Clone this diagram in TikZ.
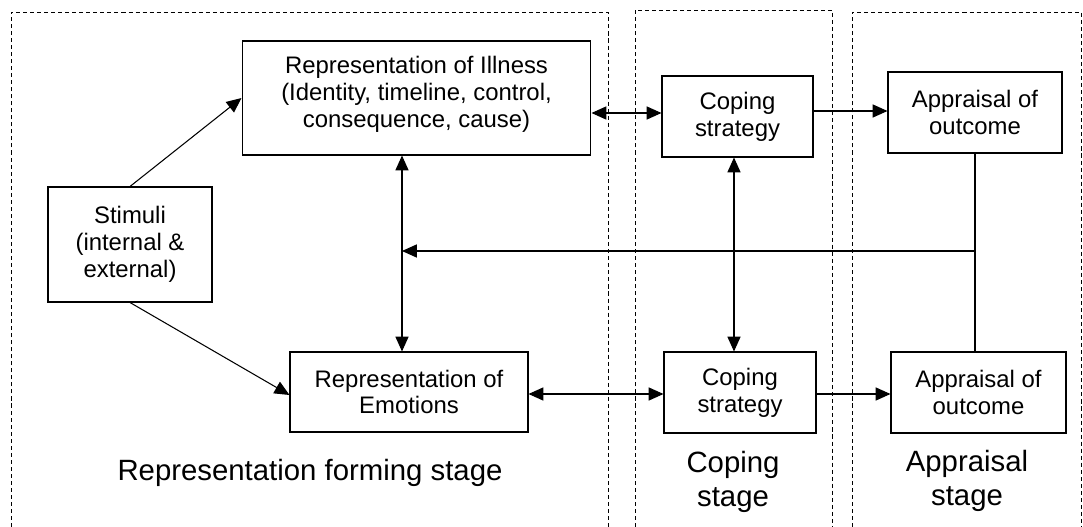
\documentclass[tikz,border=0pt]{standalone}
\usepackage{fontspec}
\setmainfont{Liberation Sans}
\usetikzlibrary{arrows.meta}
\begin{document}
\begin{tikzpicture}[x=0.02cm,y=-0.02cm,
  box/.style={draw,line width=0.6pt,inner sep=0pt,align=center,
    font=\fontsize{13.6}{15.3}\selectfont},
  stage/.style={align=center,font=\fontsize{16.7}{19.3}\selectfont},
  frame/.style={draw,line width=0.5pt,dash pattern=on 2.3pt off 1.7pt},
  link/.style={line width=0.6pt},
  tip/.tip={Triangle[length=8.5pt,width=7.5pt]},
  arr/.style={link,-tip},
  biarr/.style={link,tip-tip}]
\useasboundingbox (0,0) rectangle (1083,527);

% stage frames, open at the bottom
\draw[frame] (11,527) -- (11,12) -- (608,12) -- (608,527);
\draw[frame] (635,527) -- (635,10) -- (832,10) -- (832,527);
\draw[frame] (852,527) -- (852,12) -- (1081,12) -- (1081,527);

% boxes
\node[box,minimum width=6.98cm,minimum height=2.28cm,text depth=7pt] (ill) at (416.5,98)
  {Representation of Illness\\(Identity, timeline, control,\\consequence, cause)};
\node[box,minimum width=3.02cm,minimum height=1.62cm] (cop1) at (737.5,116.5)
  {Coping\\strategy};
\node[box,minimum width=3.48cm,minimum height=1.62cm] (app1) at (975,112.5)
  {Appraisal of\\outcome};
\node[box,minimum width=3.28cm,minimum height=2.3cm] (stim) at (130,244.5)
  {Stimuli\\(internal \&\\external)};
\node[box,minimum width=4.76cm,minimum height=1.6cm] (emo) at (409,392)
  {Representation of\\Emotions};
\node[box,minimum width=3.04cm,minimum height=1.62cm] (cop2) at (740,392.5)
  {Coping\\strategy};
\node[box,minimum width=3.5cm,minimum height=1.62cm] (app2) at (978.5,392.5)
  {Appraisal of\\outcome};

% stage captions
\node[stage] (s1) at (310,473) {Representation forming stage};
\node[stage] (s2) at (733,482) {Coping\\stage};
\node[stage] (s3) at (967,481) {Appraisal\\stage};

% helper coordinates
\coordinate (xv) at (402,0);
\coordinate (xc) at (734,0);
\coordinate (ytop) at (0,113);
\coordinate (yout) at (0,111);
\coordinate (ybot) at (0,394);
\coordinate (yfb) at (0,251);

% connectors
\draw[arr] (stim.north) -- (ill.west);
\draw[arr] (stim.south) -- ([yshift=-3*0.02cm]emo.west);
\draw[biarr] (ill.east |- ytop) -- (cop1.west |- ytop);
\draw[biarr] (ill.south -| xv) -- (emo.north -| xv);
\draw[biarr] (cop1.south -| xc) -- (cop2.north -| xc);
\draw[biarr] (emo.east |- ybot) -- (cop2.west |- ybot);
\draw[arr] (cop1.east |- yout) -- (app1.west |- yout);
\draw[arr] (cop2.east |- ybot) -- (app2.west |- ybot);
\draw[link] (app1.south) -- (app2.north -| app1.south);
\coordinate (fb) at (app1.south |- yfb);
\draw[arr] (fb) -- (fb -| xv);
\end{tikzpicture}
\end{document}
